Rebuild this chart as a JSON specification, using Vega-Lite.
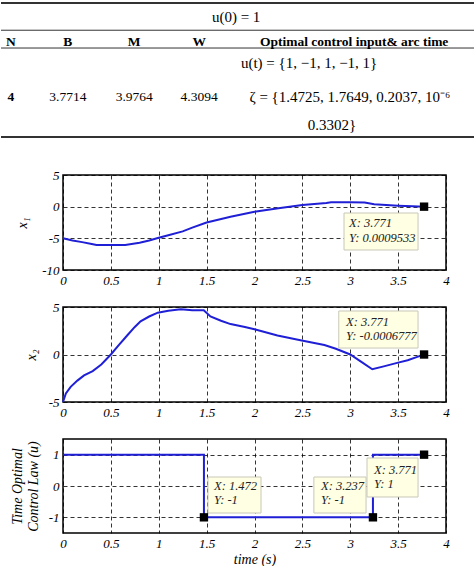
{
  "$schema": "https://vega.github.io/schema/vega-lite/v6.json",
  "padding": 0,
  "spacing": 37,
  "bounds": "flush",
  "config": {
    "view": {"stroke": "black", "strokeWidth": 1.5},
    "font": "Liberation Serif",
    "axis": {
      "labelFont": "Liberation Serif", "labelFontStyle": "italic", "labelFontSize": 13, "labelColor": "black",
      "titleFont": "Liberation Serif", "titleFontStyle": "italic", "titleFontWeight": "normal", "titleFontSize": 14, "titleColor": "black",
      "grid": true, "gridColor": "black", "gridDash": [4, 3], "gridWidth": 0.8, "gridOpacity": 1,
      "domain": false, "ticks": false, "labelPadding": 4, "labelFlush": false, "labelOverlap": false,
      "tickCount": 20,
      "labelExpr": "'' + datum.value"
    }
  },
  "datasets": {
    "rules": [
      {"x0": 0, "x1": 100, "y": 2.2, "w": "heavy"},
      {"x0": 0, "x1": 100, "y": 21.9, "w": "light"},
      {"x0": 0, "x1": 100, "y": 34.8, "w": "light"},
      {"x0": 0, "x1": 100, "y": 99.3, "w": "heavy"}
    ],
    "cells": [
      {"s": "u(0) = 1", "cx": 49.6, "cy": 12.3, "k": "math"},
      {"s": "N", "cx": 2.1, "cy": 30.4, "k": "head"},
      {"s": "B", "cx": 14.1, "cy": 30.4, "k": "head"},
      {"s": "M", "cx": 28.1, "cy": 30.4, "k": "head"},
      {"s": "W", "cx": 41.8, "cy": 30.4, "k": "head"},
      {"s": "Optimal control input& arc time", "cx": 74.5, "cy": 30.4, "k": "head"},
      {"s": "4", "cx": 2.1, "cy": 70.3, "k": "head"},
      {"s": "3.7714", "cx": 14.1, "cy": 70.3, "k": "body"},
      {"s": "3.9764", "cx": 28.1, "cy": 70.3, "k": "body"},
      {"s": "4.3094", "cx": 41.8, "cy": 70.3, "k": "body"},
      {"s": "u(t) = {1, −1, 1, −1, 1}", "cx": 65.0, "cy": 45.7, "k": "math"},
      {"s": "ζ = {1.4725, 1.7649, 0.2037, 10⁻⁶", "cx": 73.6, "cy": 70.3, "k": "math"},
      {"s": "0.3302}", "cx": 69.8, "cy": 90.6, "k": "math"}
    ],
    "x1": [
      {"t": 0, "v": -5}, {"t": 0.1, "v": -5.35}, {"t": 0.2, "v": -5.6}, {"t": 0.3, "v": -5.9},
      {"t": 0.35, "v": -6.05}, {"t": 0.5, "v": -6.05}, {"t": 0.65, "v": -6.05}, {"t": 0.8, "v": -5.7},
      {"t": 0.9, "v": -5.35}, {"t": 1.0, "v": -4.9}, {"t": 1.1, "v": -4.5}, {"t": 1.25, "v": -3.9},
      {"t": 1.35, "v": -3.3}, {"t": 1.5, "v": -2.5}, {"t": 1.75, "v": -1.6}, {"t": 2.0, "v": -0.8},
      {"t": 2.25, "v": -0.26}, {"t": 2.5, "v": 0.26}, {"t": 2.75, "v": 0.58}, {"t": 2.8, "v": 0.68},
      {"t": 3.0, "v": 0.68}, {"t": 3.15, "v": 0.66}, {"t": 3.25, "v": 0.37}, {"t": 3.5, "v": 0.16},
      {"t": 3.65, "v": 0.05}, {"t": 3.771, "v": 0.00095}
    ],
    "x2": [
      {"t": 0, "v": -5}, {"t": 0.03, "v": -4.1}, {"t": 0.08, "v": -3.4}, {"t": 0.15, "v": -2.75},
      {"t": 0.22, "v": -2.2}, {"t": 0.31, "v": -1.75}, {"t": 0.4, "v": -1.05}, {"t": 0.5, "v": 0},
      {"t": 0.58, "v": 0.95}, {"t": 0.67, "v": 2.0}, {"t": 0.75, "v": 2.9}, {"t": 0.81, "v": 3.5},
      {"t": 0.9, "v": 4.0}, {"t": 0.99, "v": 4.4}, {"t": 1.1, "v": 4.6}, {"t": 1.23, "v": 4.75},
      {"t": 1.35, "v": 4.65}, {"t": 1.47, "v": 4.65}, {"t": 1.54, "v": 4.0}, {"t": 1.65, "v": 3.55},
      {"t": 1.75, "v": 3.2}, {"t": 1.9, "v": 2.9}, {"t": 2.0, "v": 2.65}, {"t": 2.24, "v": 2.0},
      {"t": 2.48, "v": 1.5}, {"t": 2.73, "v": 1.0}, {"t": 2.85, "v": 0.6}, {"t": 3.0, "v": 0.0},
      {"t": 3.12, "v": -0.8}, {"t": 3.23, "v": -1.55}, {"t": 3.35, "v": -1.25}, {"t": 3.49, "v": -0.88},
      {"t": 3.6, "v": -0.6}, {"t": 3.7, "v": -0.25}, {"t": 3.771, "v": -0.0007}
    ],
    "u": [
      {"i": 0, "t": 0, "v": 1}, {"i": 1, "t": 1.472, "v": 1}, {"i": 2, "t": 1.472, "v": -1},
      {"i": 3, "t": 3.237, "v": -1}, {"i": 4, "t": 3.237, "v": 1}, {"i": 5, "t": 3.771, "v": 1}
    ],
    "boxes": [
      {"p": 1, "bx0": 2.935, "bx1": 3.708, "by0": -1.0, "by1": -6.84},
      {"p": 2, "bx0": 2.88, "bx1": 3.708, "by0": 4.58, "by1": 0.68},
      {"p": 3, "bx0": 1.514, "bx1": 2.068, "by0": 0.287, "by1": -0.862},
      {"p": 3, "bx0": 2.62, "bx1": 3.165, "by0": 0.287, "by1": -0.862},
      {"p": 3, "bx0": 3.175, "bx1": 3.708, "by0": 0.894, "by1": -0.351}
    ],
    "tiptext": [
      {"p": 1, "tx": 2.987, "ty": -2.58, "s": "X: 3.771"},
      {"p": 1, "tx": 2.987, "ty": -4.95, "s": "Y: 0.0009533"},
      {"p": 2, "tx": 2.956, "ty": 3.42, "s": "X: 3.771"},
      {"p": 2, "tx": 2.956, "ty": 1.95, "s": "Y: -0.0006777"},
      {"p": 3, "tx": 1.577, "ty": 0.0, "s": "X: 1.472"},
      {"p": 3, "tx": 1.577, "ty": -0.447, "s": "Y: -1"},
      {"p": 3, "tx": 2.695, "ty": 0.0, "s": "X: 3.237"},
      {"p": 3, "tx": 2.695, "ty": -0.447, "s": "Y: -1"},
      {"p": 3, "tx": 3.248, "ty": 0.51, "s": "X: 3.771"},
      {"p": 3, "tx": 3.248, "ty": 0.064, "s": "Y: 1"}
    ],
    "markers": [
      {"p": 1, "t": 3.771, "v": 0.00095},
      {"p": 2, "t": 3.771, "v": -0.0007},
      {"p": 3, "t": 1.472, "v": -1},
      {"p": 3, "t": 3.237, "v": -1},
      {"p": 3, "t": 3.771, "v": 1}
    ]
  },
  "vconcat": [
    {
      "width": 383, "height": 138,
      "view": {"stroke": null},
      "layer": [
        {
          "data": {"name": "rules"},
          "mark": {"type": "rule", "color": "#333333"},
          "encoding": {
            "x": {"field": "x0", "type": "quantitative", "scale": {"domain": [0, 100], "range": [-62, 412]}, "axis": null},
            "x2": {"field": "x1"},
            "y": {"field": "y", "type": "quantitative", "scale": {"domain": [0, 100], "range": [0, 138]}, "axis": null},
            "strokeWidth": {"field": "w", "type": "nominal", "scale": {"domain": ["heavy", "light"], "range": [2, 1]}, "legend": null}
          }
        },
        {
          "data": {"name": "cells"},
          "transform": [{"filter": "datum.k == 'head'"}],
          "mark": {"type": "text", "font": "Liberation Serif", "fontWeight": "bold", "fontSize": 13.5, "color": "black", "align": "center", "baseline": "middle"},
          "encoding": {
            "x": {"field": "cx", "type": "quantitative"},
            "y": {"field": "cy", "type": "quantitative"},
            "text": {"field": "s"}
          }
        },
        {
          "data": {"name": "cells"},
          "transform": [{"filter": "datum.k == 'body'"}],
          "mark": {"type": "text", "font": "Liberation Serif", "fontSize": 13.5, "color": "black", "align": "center", "baseline": "middle"},
          "encoding": {
            "x": {"field": "cx", "type": "quantitative"},
            "y": {"field": "cy", "type": "quantitative"},
            "text": {"field": "s"}
          }
        },
        {
          "data": {"name": "cells"},
          "transform": [{"filter": "datum.k == 'math'"}],
          "mark": {"type": "text", "font": "Liberation Serif", "fontSize": 15, "color": "black", "align": "center", "baseline": "middle"},
          "encoding": {
            "x": {"field": "cx", "type": "quantitative"},
            "y": {"field": "cy", "type": "quantitative"},
            "text": {"field": "s"}
          }
        }
      ]
    },
    {
      "width": 383, "height": 95,
      "layer": [
        {
          "data": {"name": "x1"},
          "mark": {"type": "line", "color": "#1f1fd6", "strokeWidth": 2},
          "encoding": {
            "x": {"field": "t", "type": "quantitative", "scale": {"domain": [0, 4], "nice": false}, "axis": {"values": [0, 0.5, 1, 1.5, 2, 2.5, 3, 3.5, 4], "title": null, "tickCount": 20}},
            "y": {"field": "v", "type": "quantitative", "scale": {"domain": [-10, 5], "nice": false, "zero": false}, "axis": {"values": [-10, -5, 0, 5], "title": "x₁", "titlePadding": 12, "tickCount": 20}}
          }
        },
        {
          "data": {"name": "boxes"},
          "transform": [{"filter": "datum.p == 1"}],
          "mark": {"type": "rect", "fill": "#ffffe4", "stroke": "#c8c8b8", "strokeWidth": 1},
          "encoding": {
            "x": {"field": "bx0", "type": "quantitative"}, "x2": {"field": "bx1"},
            "y": {"field": "by0", "type": "quantitative"}, "y2": {"field": "by1"}
          }
        },
        {
          "data": {"name": "tiptext"},
          "transform": [{"filter": "datum.p == 1"}],
          "mark": {"type": "text", "font": "Liberation Serif", "fontStyle": "italic", "fontSize": 12.5, "color": "#222222", "align": "left", "baseline": "middle"},
          "encoding": {
            "x": {"field": "tx", "type": "quantitative"},
            "y": {"field": "ty", "type": "quantitative"},
            "text": {"field": "s"}
          }
        },
        {
          "data": {"name": "markers"},
          "transform": [{"filter": "datum.p == 1"}],
          "mark": {"type": "point", "shape": "square", "filled": true, "size": 70, "color": "black", "opacity": 1},
          "encoding": {
            "x": {"field": "t", "type": "quantitative"},
            "y": {"field": "v", "type": "quantitative"}
          }
        }
      ]
    },
    {
      "width": 383, "height": 95,
      "layer": [
        {
          "data": {"name": "x2"},
          "mark": {"type": "line", "color": "#1f1fd6", "strokeWidth": 2},
          "encoding": {
            "x": {"field": "t", "type": "quantitative", "scale": {"domain": [0, 4], "nice": false}, "axis": {"values": [0, 0.5, 1, 1.5, 2, 2.5, 3, 3.5, 4], "title": null, "tickCount": 20}},
            "y": {"field": "v", "type": "quantitative", "scale": {"domain": [-5, 5], "nice": false}, "axis": {"values": [-5, 0, 5], "title": "x₂", "titlePadding": 10, "tickCount": 20}}
          }
        },
        {
          "data": {"name": "boxes"},
          "transform": [{"filter": "datum.p == 2"}],
          "mark": {"type": "rect", "fill": "#ffffe4", "stroke": "#c8c8b8", "strokeWidth": 1},
          "encoding": {
            "x": {"field": "bx0", "type": "quantitative"}, "x2": {"field": "bx1"},
            "y": {"field": "by0", "type": "quantitative"}, "y2": {"field": "by1"}
          }
        },
        {
          "data": {"name": "tiptext"},
          "transform": [{"filter": "datum.p == 2"}],
          "mark": {"type": "text", "font": "Liberation Serif", "fontStyle": "italic", "fontSize": 12.5, "color": "#222222", "align": "left", "baseline": "middle"},
          "encoding": {
            "x": {"field": "tx", "type": "quantitative"},
            "y": {"field": "ty", "type": "quantitative"},
            "text": {"field": "s"}
          }
        },
        {
          "data": {"name": "markers"},
          "transform": [{"filter": "datum.p == 2"}],
          "mark": {"type": "point", "shape": "square", "filled": true, "size": 70, "color": "black", "opacity": 1},
          "encoding": {
            "x": {"field": "t", "type": "quantitative"},
            "y": {"field": "v", "type": "quantitative"}
          }
        }
      ]
    },
    {
      "width": 383, "height": 94,
      "layer": [
        {
          "data": {"name": "u"},
          "mark": {"type": "line", "color": "#1f1fd6", "strokeWidth": 2},
          "encoding": {
            "x": {"field": "t", "type": "quantitative", "scale": {"domain": [0, 4], "nice": false}, "axis": {"values": [0, 0.5, 1, 1.5, 2, 2.5, 3, 3.5, 4], "title": "time (s)", "titlePadding": 2, "tickCount": 20}},
            "y": {"field": "v", "type": "quantitative", "scale": {"domain": [-1.5, 1.5], "nice": false}, "axis": {"values": [-1, 0, 1], "title": ["Time Optimal", "Control Law (u)"], "titlePadding": 8, "tickCount": 20}},
            "order": {"field": "i", "type": "quantitative"}
          }
        },
        {
          "data": {"name": "boxes"},
          "transform": [{"filter": "datum.p == 3"}],
          "mark": {"type": "rect", "fill": "#ffffe4", "stroke": "#c8c8b8", "strokeWidth": 1},
          "encoding": {
            "x": {"field": "bx0", "type": "quantitative"}, "x2": {"field": "bx1"},
            "y": {"field": "by0", "type": "quantitative"}, "y2": {"field": "by1"}
          }
        },
        {
          "data": {"name": "tiptext"},
          "transform": [{"filter": "datum.p == 3"}],
          "mark": {"type": "text", "font": "Liberation Serif", "fontStyle": "italic", "fontSize": 12.5, "color": "#222222", "align": "left", "baseline": "middle"},
          "encoding": {
            "x": {"field": "tx", "type": "quantitative"},
            "y": {"field": "ty", "type": "quantitative"},
            "text": {"field": "s"}
          }
        },
        {
          "data": {"name": "markers"},
          "transform": [{"filter": "datum.p == 3"}],
          "mark": {"type": "point", "shape": "square", "filled": true, "size": 70, "color": "black", "opacity": 1},
          "encoding": {
            "x": {"field": "t", "type": "quantitative"},
            "y": {"field": "v", "type": "quantitative"}
          }
        }
      ]
    }
  ]
}
